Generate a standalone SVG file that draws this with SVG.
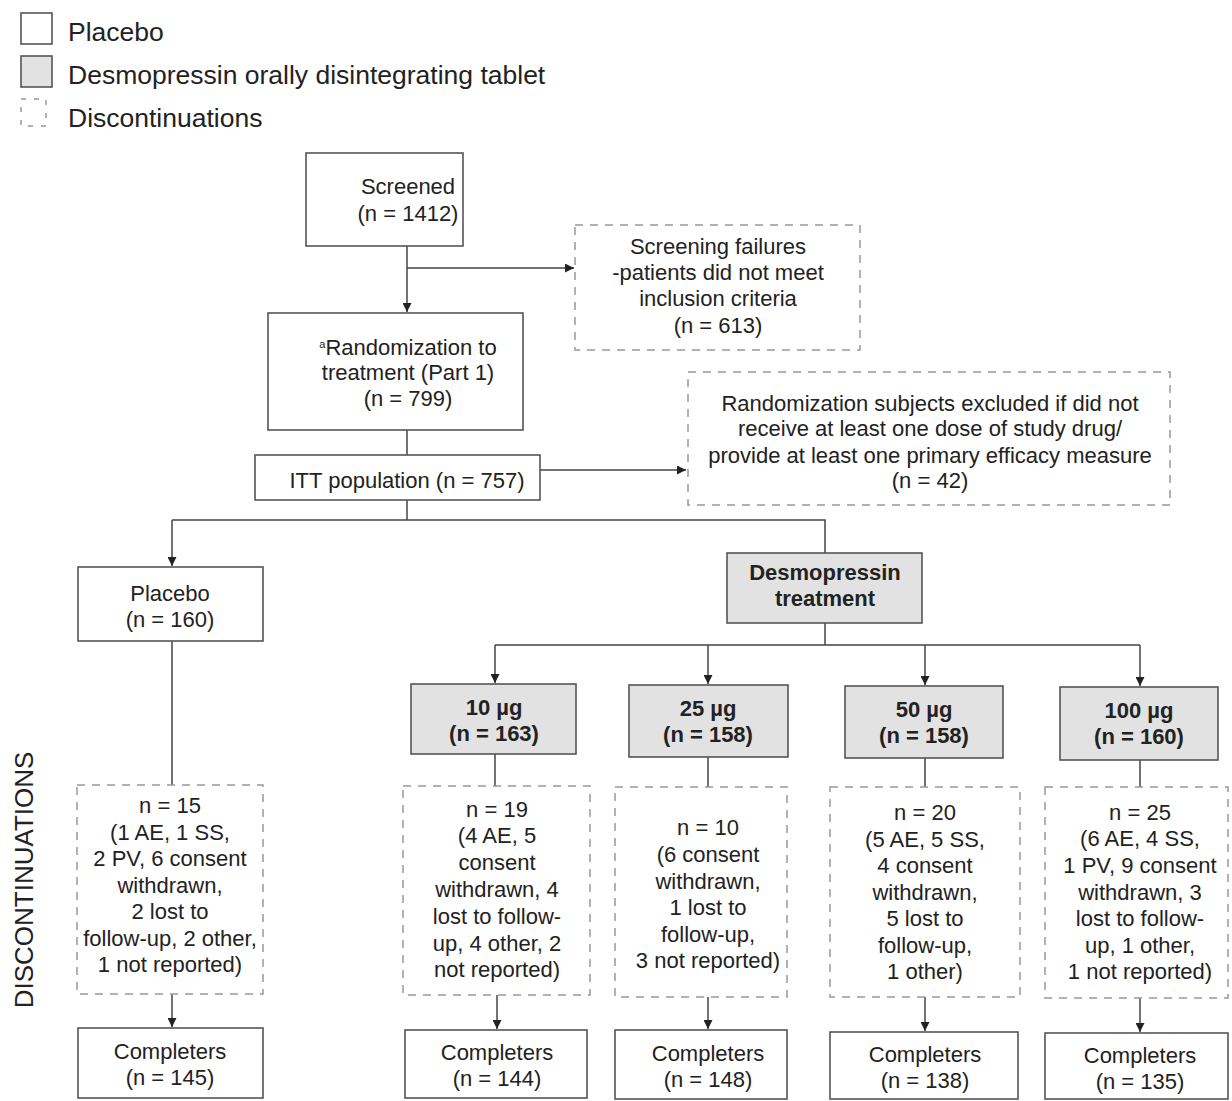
<svg xmlns="http://www.w3.org/2000/svg" width="1232" height="1101" viewBox="0 0 1232 1101">
<style>
text{font-family:"Liberation Sans",Arial,sans-serif;fill:#222;}
.t{font-size:22px;text-anchor:middle;}
.b{font-weight:bold;}
.lg{font-size:26.5px;}
.box{fill:#fff;stroke:#555;stroke-width:1.6;}
.gbox{fill:#e2e2e2;stroke:#555;stroke-width:1.6;}
.dbox{fill:#fff;stroke:#999;stroke-width:1.5;stroke-dasharray:8 7;}
.ln{fill:none;stroke:#444;stroke-width:1.5;}
</style>
<defs>
<marker id="ah" viewBox="0 0 10 10" refX="10" refY="5" markerWidth="9" markerHeight="9" markerUnits="userSpaceOnUse" orient="auto">
<path d="M0,0 L10,5 L0,10 z" fill="#222"/>
</marker>
</defs>
<rect width="1232" height="1101" fill="#fff"/>

<g id="legend">
<rect x="21" y="13" width="31" height="31" class="box" stroke="#888"/>
<text x="68" y="41" class="lg">Placebo</text>
<rect x="21" y="56" width="31" height="31" class="gbox" stroke="#888"/>
<text x="68" y="84" class="lg">Desmopressin orally disintegrating tablet</text>
<rect x="21" y="99" width="25" height="27" class="dbox" style="stroke-dasharray:5 8"/>
<text x="68" y="127" class="lg">Discontinuations</text>
</g>

<text x="33" y="880" transform="rotate(-90 33 880)" style="font-size:26px;text-anchor:middle">DISCONTINUATIONS</text>

<g id="connectors">
<path class="ln" d="M407,246 V312" marker-end="url(#ah)"/>
<path class="ln" d="M407,268 H574" marker-end="url(#ah)"/>
<path class="ln" d="M407,430 V455"/>
<path class="ln" d="M540,470 H686" marker-end="url(#ah)"/>
<path class="ln" d="M407,500 V520 M172,520 H825 V553"/>
<path class="ln" d="M172,520 V566" marker-end="url(#ah)"/>
<path class="ln" d="M825,623 V645 M495,645 H1140"/>
<path class="ln" d="M495,645 V683" marker-end="url(#ah)"/>
<path class="ln" d="M708,645 V684" marker-end="url(#ah)"/>
<path class="ln" d="M925,645 V685" marker-end="url(#ah)"/>
<path class="ln" d="M1140,645 V686" marker-end="url(#ah)"/>
<path class="ln" d="M172,641 V785 M495,754 V786 M708,757 V787 M925,758 V787 M1140,760 V787"/>
<path class="ln" d="M172,994 V1027" marker-end="url(#ah)"/>
<path class="ln" d="M497,995 V1029" marker-end="url(#ah)"/>
<path class="ln" d="M708,997 V1029" marker-end="url(#ah)"/>
<path class="ln" d="M925,997 V1031" marker-end="url(#ah)"/>
<path class="ln" d="M1140,998 V1032" marker-end="url(#ah)"/>
</g>

<g id="screened">
<rect x="306" y="153" width="157" height="93" class="box"/>
<text class="t" x="408" y="194">Screened</text>
<text class="t" x="408" y="221">(n = 1412)</text>
</g>

<g id="screen-fail">
<rect x="575" y="225" width="285" height="125" class="dbox"/>
<text class="t" x="718" y="254">Screening failures</text>
<text class="t" x="718" y="280">-patients did not meet</text>
<text class="t" x="718" y="306">inclusion criteria</text>
<text class="t" x="718" y="333">(n = 613)</text>
</g>

<g id="randomization">
<rect x="268" y="313" width="255" height="117" class="box"/>
<text class="t" x="408" y="355"><tspan style="font-size:11px" dy="-7">a</tspan><tspan dy="7">Randomization to</tspan></text>
<text class="t" x="408" y="380">treatment (Part 1)</text>
<text class="t" x="408" y="406">(n = 799)</text>
</g>

<g id="itt">
<rect x="255" y="455" width="285" height="45" class="box"/>
<text class="t" x="407" y="488">ITT population (n = 757)</text>
</g>

<g id="excluded">
<rect x="688" y="372" width="482" height="133" class="dbox"/>
<text class="t" x="930" y="411">Randomization subjects excluded if did not</text>
<text class="t" x="930" y="436">receive at least one dose of study drug/</text>
<text class="t" x="930" y="463">provide at least one primary efficacy measure</text>
<text class="t" x="930" y="488">(n = 42)</text>
</g>

<g id="placebo">
<rect x="78" y="567" width="185" height="74" class="box"/>
<text class="t" x="170" y="601">Placebo</text>
<text class="t" x="170" y="627">(n = 160)</text>
</g>

<g id="desmo">
<rect x="727" y="553" width="195" height="70" class="gbox"/>
<text class="t b" x="825" y="580">Desmopressin</text>
<text class="t b" x="825" y="606">treatment</text>
</g>

<g id="dose10">
<rect x="411" y="684" width="165" height="70" class="gbox"/>
<text class="t b" x="494" y="715">10 µg</text>
<text class="t b" x="494" y="741">(n = 163)</text>
</g>
<g id="dose25">
<rect x="629" y="685" width="159" height="72" class="gbox"/>
<text class="t b" x="708" y="716">25 µg</text>
<text class="t b" x="708" y="742">(n = 158)</text>
</g>
<g id="dose50">
<rect x="845" y="686" width="158" height="72" class="gbox"/>
<text class="t b" x="924" y="717">50 µg</text>
<text class="t b" x="924" y="743">(n = 158)</text>
</g>
<g id="dose100">
<rect x="1060" y="687" width="158" height="73" class="gbox"/>
<text class="t b" x="1139" y="718">100 µg</text>
<text class="t b" x="1139" y="744">(n = 160)</text>
</g>

<g id="disc-placebo">
<rect x="77" y="785" width="186" height="209" class="dbox"/>
<text class="t" x="170" y="813">n = 15</text>
<text class="t" x="170" y="840">(1 AE, 1 SS,</text>
<text class="t" x="170" y="866">2 PV, 6 consent</text>
<text class="t" x="170" y="893">withdrawn,</text>
<text class="t" x="170" y="919">2 lost to</text>
<text class="t" x="170" y="946">follow-up, 2 other,</text>
<text class="t" x="170" y="972">1 not reported)</text>
</g>
<g id="disc-10">
<rect x="403" y="786" width="187" height="209" class="dbox"/>
<text class="t" x="497" y="817">n = 19</text>
<text class="t" x="497" y="843">(4 AE, 5</text>
<text class="t" x="497" y="870">consent</text>
<text class="t" x="497" y="897">withdrawn, 4</text>
<text class="t" x="497" y="924">lost to follow-</text>
<text class="t" x="497" y="951">up, 4 other, 2</text>
<text class="t" x="497" y="977">not reported)</text>
</g>
<g id="disc-25">
<rect x="615" y="787" width="172" height="210" class="dbox"/>
<text class="t" x="708" y="835">n = 10</text>
<text class="t" x="708" y="862">(6 consent</text>
<text class="t" x="708" y="889">withdrawn,</text>
<text class="t" x="708" y="915">1 lost to</text>
<text class="t" x="708" y="942">follow-up,</text>
<text class="t" x="708" y="968">3 not reported)</text>
</g>
<g id="disc-50">
<rect x="830" y="787" width="190" height="210" class="dbox"/>
<text class="t" x="925" y="820">n = 20</text>
<text class="t" x="925" y="847">(5 AE, 5 SS,</text>
<text class="t" x="925" y="873">4 consent</text>
<text class="t" x="925" y="900">withdrawn,</text>
<text class="t" x="925" y="926">5 lost to</text>
<text class="t" x="925" y="953">follow-up,</text>
<text class="t" x="925" y="979">1 other)</text>
</g>
<g id="disc-100">
<rect x="1045" y="787" width="183" height="211" class="dbox"/>
<text class="t" x="1140" y="820">n = 25</text>
<text class="t" x="1140" y="846">(6 AE, 4 SS,</text>
<text class="t" x="1140" y="873">1 PV, 9 consent</text>
<text class="t" x="1140" y="900">withdrawn, 3</text>
<text class="t" x="1140" y="926">lost to follow-</text>
<text class="t" x="1140" y="953">up, 1 other,</text>
<text class="t" x="1140" y="979">1 not reported)</text>
</g>

<g id="comp-placebo">
<rect x="78" y="1028" width="185" height="70" class="box"/>
<text class="t" x="170" y="1059">Completers</text>
<text class="t" x="170" y="1085">(n = 145)</text>
</g>
<g id="comp-10">
<rect x="405" y="1030" width="182" height="68" class="box"/>
<text class="t" x="497" y="1060">Completers</text>
<text class="t" x="497" y="1086">(n = 144)</text>
</g>
<g id="comp-25">
<rect x="615" y="1030" width="172" height="69" class="box"/>
<text class="t" x="708" y="1061">Completers</text>
<text class="t" x="708" y="1087">(n = 148)</text>
</g>
<g id="comp-50">
<rect x="830" y="1032" width="188" height="67" class="box"/>
<text class="t" x="925" y="1062">Completers</text>
<text class="t" x="925" y="1088">(n = 138)</text>
</g>
<g id="comp-100">
<rect x="1045" y="1033" width="183" height="66" class="box"/>
<text class="t" x="1140" y="1063">Completers</text>
<text class="t" x="1140" y="1089">(n = 135)</text>
</g>
</svg>
